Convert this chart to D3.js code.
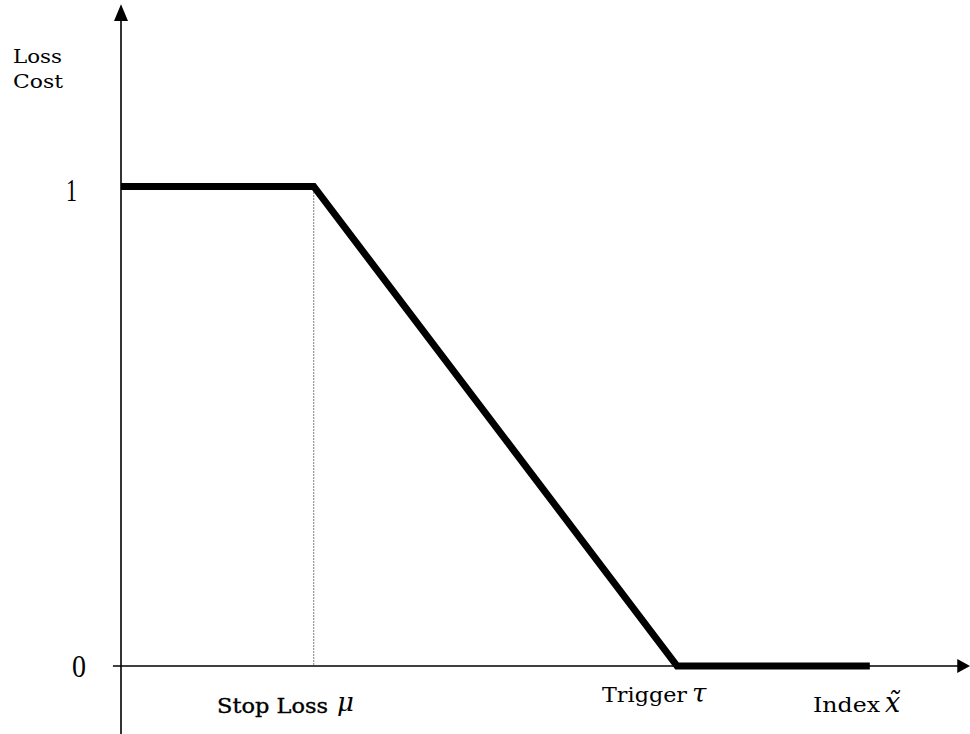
<!DOCTYPE html>
<html><head><meta charset="utf-8">
<script src="https://cdn.jsdelivr.net/npm/d3@7"></script>
<style>body{margin:0;background:#fff}svg{display:block}text{font-family:"DejaVu Serif","Liberation Serif",serif;fill:#000}</style>
</head><body>
<svg id="c" width="970" height="734"></svg>
<script>
// Data
const lineX = [0, 22.7, 65.5, 88.2];      // index values of payoff corners
const lineY = [1, 1, 0, 0];               // loss cost
const yTickValues = [0, 1];
const yTickLabels = ["0", "1"];
const stopLoss = 22.7;
const trigger = 65.5;

const svg = d3.select("#c");
const x = d3.scaleLinear().domain([0, 100]).range([121, 970]);
const y = d3.scaleLinear().domain([0, 1]).range([666, 186.5]);

// axes
svg.append("line").attr("x1", x(-0.95)).attr("x2", x(98.6)).attr("y1", y(0)).attr("y2", y(0))
  .attr("stroke", "#000").attr("stroke-width", 1.6);
svg.append("path").attr("d", `M${x(100)},${y(0)} L${x(98.5)},${y(0)-7} L${x(98.5)},${y(0)+7} Z`).attr("fill", "#000");
svg.append("line").attr("x1", x(0)).attr("x2", x(0)).attr("y1", y(-0.142)).attr("y2", y(1.35))
  .attr("stroke", "#000").attr("stroke-width", 1.6);
svg.append("path").attr("d", `M${x(0)},${y(1.38)} L${x(0)-7},${y(1.345)} L${x(0)+7},${y(1.345)} Z`).attr("fill", "#000");

// dotted guide
svg.append("line").attr("x1", x(stopLoss)).attr("x2", x(stopLoss)).attr("y1", y(1)).attr("y2", y(0))
  .attr("stroke", "#000").attr("stroke-width", 1).attr("stroke-dasharray", "1,2");

// payoff line
const pts = lineX.map((v, i) => [v, lineY[i]]);
svg.append("path").datum(pts)
  .attr("d", d3.line().x(d => x(d[0])).y(d => y(d[1])))
  .attr("fill", "none").attr("stroke", "#000").attr("stroke-width", 7).attr("stroke-linejoin", "miter");

// helper for fitted text
function txt(s, px, py, size, w, opts = {}) {
  const t = svg.append("text").attr("x", px).attr("y", py).attr("font-size", size).text(s);
  if (w) t.attr("textLength", w).attr("lengthAdjust", "spacingAndGlyphs");
  if (opts.italic) t.attr("font-style", "italic");
  if (opts.serif) t.style("font-family", "'Liberation Serif', serif");
  if (opts.semibold) t.attr("stroke", "#000").attr("stroke-width", 0.35);
  return t;
}

// y tick labels
yTickValues.forEach((v, i) => {
  txt(yTickLabels[i], v === 1 ? 66 : 72, y(v) + (v === 1 ? 14.5 : 11), 31, v === 1 ? 11 : 14, {serif: true});
});

// y title
txt("Loss", 13, 63, 19, 49);
txt("Cost", 13, 88, 19, 50);

// x labels
txt("Stop Loss", 217, 713, 20, 111, {semibold: true});
txt("μ", 337, 711, 26, null, {italic: true});
txt("Trigger", 602, 702, 20, 85);
txt("τ", 692, 702, 26, null, {italic: true});
txt("Index", 813, 712, 20, 67);
txt("x̃", 885, 712, 27, null, {italic: true});
</script>
</body></html>
